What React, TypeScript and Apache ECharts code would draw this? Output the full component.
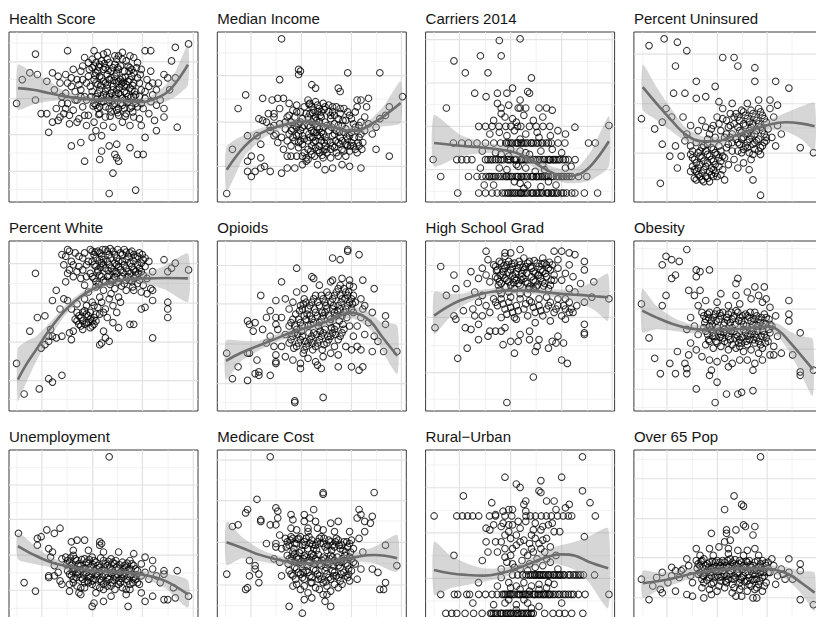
import { useEffect, useRef } from 'react';
import * as echarts from 'echarts';

// ---- panel titles ----
const TITLES = [
  'Health Score', 'Median Income', 'Carriers 2014', 'Percent Uninsured',
  'Percent White', 'Opioids', 'High School Grad', 'Obesity',
  'Unemployment', 'Medicare Cost', 'Rural\u2212Urban', 'Over 65 Pop',
];

// ---- grid break positions (shared per column for x, per panel for y) ----
const col1GridX = [4.2, 17.4, 30.8, 44.3, 57.5, 70.6, 84.2, 97.5];
const col2GridX = [4.4, 17.8, 31, 44.5, 57.7, 71, 84.2, 97.4];
const col3GridX = [4.5, 17.9, 31.7, 45, 58.5, 72, 85.7, 98.7];
const col4GridX = [4.7, 17.5, 31, 44.2, 57.4, 70.5, 83.7, 96.8];

const healthScoreGridY = [7.3, 18, 28.8, 39.6, 50, 60.8, 72, 82.4, 93.5];
const medianIncomeGridY = [7.6, 21, 33.7, 47, 60.6, 74.3, 87.6];
const carriersGridY = [6.3, 19, 31.8, 44.5, 57.3, 70, 82.7, 95.5];
const uninsuredGridY = [14.1, 28.8, 43.5, 57.8, 72, 87];
const whiteGridY = [6.8, 17.9, 29.2, 40.5, 51.7, 63.4, 75, 86.7];
const opioidsGridY = [4.9, 16.1, 27.6, 39.4, 51.6, 63, 74.2, 85.6];
const hsGradGridY = [6.9, 22.6, 38.4, 55.1, 70.3, 85.6];
const obesityGridY = [2, 12.8, 24.6, 36.4, 48.2, 60, 71.9, 83.7, 95.5];
const unemploymentGridY = [6.9, 17.5, 27.8, 38.2, 48.4, 59.2, 69, 79.4, 89.6];
const medicareGridY = [8.4, 20.6, 33.3, 45.7, 58.2, 70.2, 82.4, 94.1];
const ruralGridY = [11.2, 24.5, 37.8, 51.2, 64.5, 77.8, 91.2];
const over65GridY = [1.4, 13.1, 24.9, 36.7, 48.4, 59.6, 71.4, 83.1, 94.5];

// ---- scatter points (flat x,y pairs, panel units 0..100) ----
const healthScorePts = [
  95,93, 88,91, 75,89, 72,89, 66,85, 86,83, 31,89, 45,89, 14,87, 11,76, 7,72, 4,58, 14,60, 17,52, 20,52, 23,47, 21,41, 33,33, 38,35, 40,24,
  53,5, 67,7, 55,17, 89,44, 82,50, 78,42, 72,38, 68,28, 71,28, 64,32, 58,24, 57,26, 48,25, 49,30, 53,33, 57,34, 56,28, 44,38, 49,39, 46,42,
  41,45, 36,47, 32,46, 27,50, 30,55, 25,55, 28,58, 35,60, 15,75, 20,71, 23,76, 26,74, 82,75, 85,66, 88,73, 84,73,
  44,79, 46,76, 48,81, 50,78, 52,75, 53,82, 55,79, 57,76, 59,80, 61,77, 62,83, 64,79, 66,76,
  45,72, 47,69, 49,73, 51,70, 53,72, 55,68, 56,74, 58,71, 60,73, 62,69, 64,72, 66,70, 68,73,
  44,65, 46,62, 48,66, 50,63, 52,67, 54,64, 56,61, 57,66, 59,63, 61,65, 63,62, 65,66, 67,63,
  45,58, 47,55, 49,59, 51,56, 53,60, 55,57, 57,54, 59,58, 61,55, 63,59, 65,56, 67,58,
  48,52, 51,50, 54,53, 58,51, 62,52, 66,50,
  24,66, 27,70, 30,64, 33,68, 36,72, 38,66, 41,70, 40,62, 36,60, 31,58, 28,62, 34,54, 39,56, 42,51, 37,49,
  70,66, 72,61, 74,68, 76,63, 78,57, 71,55, 74,52, 77,48, 69,49, 73,72, 70,78, 75,77, 68,82, 42,82, 38,77, 34,78, 30,75, 40,85, 47,86, 56,86,
  60,88, 64,86, 52,88, 26,48, 45,47, 50,45, 60,47, 64,45, 70,45, 55,44, 80,60, 79,70, 82,55,
  45,80, 47,77, 49,83, 51,79, 54,77, 56,81, 58,78, 60,84, 63,80, 65,78, 46,70, 48,74, 50,71, 52,69, 54,73, 57,70, 59,72, 61,68, 63,71, 65,74,
  47,64, 49,61, 51,65, 53,62, 55,66, 58,64, 60,61, 62,64, 64,67, 66,62, 46,57, 48,56, 50,59, 53,55, 56,58, 58,55, 60,57, 62,60, 64,55, 43,68,
  42,74, 41,60, 69,70, 69,62, 68,56, 52,84, 57,84, 46,82, 39,72, 38,62,
  45.5,74.5, 47.5,79.5, 50.5,81.5, 52.5,77.5, 55.5,71.5, 57.5,79, 59.5,69.5, 61.5,73.5, 63.5,77, 65.5,68.5, 46.5,60.5, 48.5,68.5, 51.5,62.5,
  54.5,59.5, 56.5,63.5, 58.5,67.5, 60.5,70.5, 62.5,58.5, 64.5,61.5, 66.5,65, 44.5,56.5, 47.5,51.5, 53.5,50.5, 57.5,52.5, 61.5,50.5, 65.5,53,
  43.5,62, 42.5,78, 67.5,79, 69.5,75, 35,65, 33,73, 37,69, 31,70, 39,80, 72,65, 75,59, 70,58, 76,70, 78,66, 29,52, 32,51, 40,51, 44,84,
  50,87, 58,86,
];
const medianIncomePts = [
  34,96, 43,78, 44,77, 43,75, 33,72, 69,76, 86,76, 15,63, 11,55, 8,31, 5,5, 16,24, 18,27, 16,18, 18,15, 20,18, 23,20, 25,21, 28,18, 34,17,
  23,26, 16,39, 21,39, 23,34, 24,61, 29,60, 32,61, 35,61, 50,69, 52,67, 64,67, 65,65, 98,62, 91,56, 89,51, 86,49, 84,31, 91,27, 76,20, 70,21,
  66,22, 61,20, 57,19, 37,20, 41,20, 45,22, 48,25, 37,27, 39,27, 42,27, 45,27, 47,26, 22,49, 24,48, 27,52, 30,52, 28,42, 30,39, 74,60, 76,60,
  80,61, 78,50, 79,56,
  48,60, 50,56, 52,59, 54,55, 56,58, 49,52, 51,49, 53,53, 55,50, 57,47, 48,45, 50,42, 52,46, 54,43, 56,40, 49,38, 51,35, 53,39, 55,36, 57,33,
  48,31, 50,28, 52,32, 54,29, 56,26,
  59,57, 61,53, 63,56, 65,52, 67,55, 60,49, 62,46, 64,49, 66,45, 68,48, 59,42, 61,39, 63,42, 65,38, 67,41, 69,37, 60,35, 62,32, 64,35, 66,31,
  68,34, 70,30, 72,33, 74,29, 71,41, 73,44, 75,38, 77,35, 70,51, 73,53, 76,47, 78,42, 74,56,
  38,58, 40,54, 42,57, 44,53, 46,56, 37,50, 39,47, 41,50, 43,46, 45,49, 36,43, 38,40, 40,43, 42,39, 44,42, 46,37, 37,36, 39,33, 41,36, 43,32,
  45,34, 46,29, 35,31, 33,46, 31,40, 30,50, 28,44, 26,47, 33,55,
  58,29, 60,26, 64,27, 68,27, 47,24, 53,22, 80,46, 82,40, 84,44,
  49,58, 51,54, 53,57, 55,53, 57,56, 48,50, 50,47, 52,50, 54,47, 56,44, 49,44, 51,41, 53,44, 55,41, 57,38, 48,36, 50,33, 52,36, 54,33, 56,30,
  58,45, 60,51, 62,40, 64,45, 66,36, 68,43, 70,39, 72,46, 74,42, 61,33, 63,29, 65,34, 67,30, 69,33, 71,35, 73,31, 75,33, 76,40, 59,53, 62,51,
  46,45, 44,47, 42,44, 47,52, 45,39, 43,35, 58,36, 60,31,
  48.5,57.5, 50.5,52.5, 52.5,48, 54.5,51, 56.5,54.5, 48.5,40, 50.5,38, 52.5,41, 54.5,38.5, 56.5,35, 49.5,30, 51.5,27, 53.5,30.5, 55.5,27.5,
  57.5,31, 60.5,44, 62.5,36, 64.5,41, 66.5,48, 68.5,38.5, 70.5,33, 72.5,38, 74.5,35, 76.5,31, 61,56, 65,55, 69,53, 71,49, 75,45, 41,45, 39,42,
  43,40, 45,44, 44,36, 40,38, 38,51, 42,53, 36,47, 34,38, 32,35, 30,45,
];
const carriersPts = [
  50,96, 39,95, 29,86, 40,86, 15,83, 21,76, 33,76, 56,73, 26,64, 32,62, 38,64, 43,64, 46,67, 50,60, 54,65, 55,64, 11,55.3, 40,55.3, 40,52,
  49,55.3, 50,55.3, 53,55.3, 60,55.3, 64,55.3, 67,54, 46,49, 97,45, 79,44, 4,25, 8,15, 17,5.3, 91,5.3, 84,5.3, 79,5.3,
  14.7,34.7, 19.1,34.7, 22.7,34.7, 27.2,34.7, 31.7,34.7, 36.1,34.7, 39.7,34.7, 42.4,34.7, 45.1,34.7, 47.8,34.7, 50.4,34.7, 53.1,34.7,
  55.8,34.7, 58.5,34.7, 61.2,34.7, 63.9,34.7, 66.5,34.7, 70.1,34.7, 73.7,34.7, 86.2,34.7, 89.8,34.7, 44,34.7, 49,34.7, 52,34.7, 57,34.7,
  43,34.7, 46,34.7, 48.5,34.7, 51,34.7, 54,34.7, 56,34.7, 59.5,34.7, 62,34.7, 65,34.7,
  16.5,24.9, 19.1,24.9, 21.8,24.9, 24.5,24.9, 31.7,24.9, 34.3,24.9, 37,24.9, 39.7,24.9, 43.3,24.9, 46.9,24.9, 50.4,24.9, 54,24.9,
  59.4,24.9, 62.1,24.9, 64.8,24.9, 67.4,24.9, 70.1,24.9, 72.8,24.9, 75.5,24.9, 79.1,24.9, 41,24.9, 45,24.9, 48,24.9, 52,24.9, 57,24.9,
  66,24.9, 69,24.9, 74,24.9, 33,24.9, 35.5,24.9, 38.5,24.9, 44,24.9, 47.5,24.9, 51,24.9, 53,24.9, 55.5,24.9, 58,24.9, 60.5,24.9, 63,24.9,
  65.5,24.9, 68,24.9, 71,24.9,
  22.7,15, 27.2,15, 29.9,15, 33.5,15, 37,15, 39.7,15, 42.4,15, 45.1,15, 47.8,15, 50.4,15, 53.1,15, 55.8,15, 58.5,15, 61.2,15, 63.9,15,
  66.5,15, 69.2,15, 71.9,15, 74.6,15, 77.3,15, 80.9,15, 85.3,15, 35,15, 41,15, 44,15, 49,15, 52,15, 57,15, 60,15, 62,15,
  32,15, 34,15, 36,15, 38.5,15, 43,15, 46,15, 48.5,15, 51,15, 54,15, 56.5,15, 59,15, 63,15, 65,15, 67.5,15, 70.5,15, 73,15, 76,15,
  28.1,5.3, 31.7,5.3, 35.2,5.3, 37.9,5.3, 40.6,5.3, 43.3,5.3, 45.1,5.3, 47.8,5.3, 50.4,5.3, 53.1,5.3, 55.8,5.3, 58.5,5.3, 61.2,5.3,
  63.9,5.3, 66.5,5.3, 69.2,5.3, 71.9,5.3, 74.6,5.3, 77.3,5.3, 42,5.3, 46,5.3, 49,5.3, 52,5.3, 57,5.3, 60,5.3, 65,5.3, 68,5.3,
  44,5.3, 47,5.3, 50,5.3, 51,5.3, 54,5.3, 56.5,5.3, 59,5.3, 62,5.3, 64.5,5.3, 67,5.3, 70,5.3, 73,5.3,
  28.1,44.5, 31.7,44.5, 35.2,44.5, 38.8,44.5, 42.4,44.5, 45.1,44.5, 48.7,44.5, 50.4,44.5, 54.9,44.5, 58.5,44.5, 62.1,44.5, 65.7,44.5,
  34,40, 39,41, 43,39, 47,42, 53,40, 59,41, 66,39, 70,42, 74,40,
  30,30, 37,29, 45,31, 50,30, 53,29, 61,30, 67,31, 72,29,
  29,20, 39,20, 49,21, 53,20, 63,19, 74,20, 77,21,
  31,10, 36,10, 50,11, 54,10, 61,9, 69,10,
  44,27, 48,22, 55,28, 58,18, 62,22, 65,12, 47,12, 52,8, 40,28, 43,19, 60,38, 50,37,
  36,48, 42,50, 48,47, 52,51, 57,48, 44,57, 38,58, 62,50,
];
const uninsuredPts = [
  8,92, 16,96, 23,94, 28,89, 22,80, 47,85, 53,85, 55,80, 64,79, 33,71, 43,68, 64,71, 75,71, 82,67, 21,64, 27,64, 33,61, 38,62, 4,49, 11,43,
  15,34, 19,27, 14,11, 23,20, 25,27, 22,33, 67,4, 63,13, 88,32, 95,29, 17,55, 20,50, 15,47,
  30,28, 32,25, 34,29, 36,26, 38,30, 40,27, 42,24, 44,28, 31,21, 33,18, 35,22, 37,19, 39,23, 41,20, 43,17, 45,21, 32,14, 34,16, 36,13, 38,15,
  40,12, 42,15, 30,33, 33,35, 36,32, 39,34, 42,31, 45,33, 47,27, 47,19, 48,13,
  54,52, 56,48, 58,53, 60,49, 62,54, 64,50, 66,55, 68,51, 70,47, 55,44, 57,41, 59,45, 61,42, 63,46, 65,42, 67,44, 69,40, 71,43, 54,37, 56,34,
  58,38, 60,35, 62,39, 64,35, 66,37, 68,33, 70,36, 55,30, 58,31, 61,29, 64,31, 67,28,
  46,42, 48,38, 50,44, 52,40, 49,48, 51,52, 47,55, 44,50, 42,45, 40,40, 38,44, 36,48, 34,42, 50,34, 52,30, 48,26, 50,22, 53,25, 55,20, 58,23,
  61,19, 62,25, 72,55, 74,50, 76,45, 73,38, 75,33, 78,40, 72,60, 76,57, 66,60, 60,58, 52,58, 45,59, 28,40, 30,45, 27,36, 26,50,
  31,26, 33,23, 35,27, 37,24, 39,28, 41,25, 43,22, 45,26, 30,18, 32,19, 34,20, 36,17, 38,21, 40,18, 42,19, 44,15, 33,13, 35,15, 37,12, 39,14,
  41,16, 31,30, 35,30, 37,33, 41,32, 43,29, 46,24, 46,16,
  55,50, 57,54, 59,51, 61,47, 63,52, 65,48, 67,53, 69,49, 56,42, 58,46, 60,40, 62,44, 64,40, 66,46, 68,42, 70,38, 55,35, 57,37, 59,33, 61,37,
  63,34, 65,36, 67,32, 69,35, 57,29, 60,32, 63,28, 66,30, 53,46, 52,35,
  49,40, 51,45, 47,49, 53,50, 45,46, 43,38, 41,43, 39,37, 51,38, 49,32, 46,30,
];
const whitePts = [
  4,28, 8,10, 16,13, 21,19, 23,17, 28,21, 14,81, 15,55, 19,56, 11,47, 17,37, 19,39, 21,41, 21,44, 23,44, 25,43, 28,44, 22,48, 25,71, 23,65,
  29,66, 31,65, 27,60, 33,42, 32,46, 48,39, 49,40, 51,43, 53,41, 64,51, 66,51, 76,43, 84,55, 84,64, 84,60, 82,89, 88,87, 86,84, 84,82, 95,83,
  76,71, 76,65, 72,61, 70,60, 28,92, 31,95, 32,94,
  43,95, 45,92, 47,94, 49,91, 51,95, 53,92, 55,94, 57,90, 59,93, 61,95, 63,91, 65,94, 67,90, 69,93, 71,89,
  44,88, 46,85, 48,89, 50,86, 52,88, 54,84, 56,87, 58,85, 60,88, 62,84, 64,87, 66,83, 68,86, 70,82, 72,85,
  43,81, 45,78, 47,82, 49,79, 51,76, 53,80, 55,77, 57,81, 59,78, 61,75, 63,79, 65,76, 67,80, 69,77, 71,74, 73,78,
  30,91, 33,88, 35,93, 37,85, 39,90, 41,86, 32,83, 34,79, 36,82, 38,78, 40,74, 30,76, 29,86, 74,88, 76,82, 75,72, 73,69, 70,70, 66,71, 62,71,
  56,72, 50,71, 46,73, 42,70,
  36,58, 38,55, 40,59, 42,56, 44,53, 46,57, 37,51, 39,48, 41,52, 43,49, 45,51, 35,54, 47,61, 49,64, 51,60, 53,66, 55,62, 57,58, 59,64, 48,67,
  44,64, 40,66, 36,63, 33,60, 52,55, 55,52, 58,49, 50,47, 54,69, 58,67, 34,47,
  44,94, 46,90, 48,93, 50,89, 52,94, 54,90, 56,92, 58,88, 60,92, 62,89, 64,93, 66,88, 68,91, 70,87, 45,86, 47,83, 49,87, 51,84, 53,86, 55,82,
  57,86, 59,83, 61,86, 63,82, 65,85, 67,82, 69,84, 71,80, 44,79, 46,76, 48,80, 50,77, 52,79, 54,76, 56,79, 58,76, 60,79, 62,77, 64,77, 66,78,
  68,75, 42,88, 40,93, 72,90,
  37,56, 39,53, 41,57, 43,54, 45,55, 38,50, 40,51, 42,52, 44,50, 36,53, 39,58, 43,58, 46,53, 48,57, 50,58, 41,62, 45,62,
  45.5,93.5, 49.5,95, 53.5,95.5, 57.5,95, 62,93.5, 66,92, 70.5,92, 48.5,84.5, 52.5,82.5, 56.5,82, 60.5,81.5, 64.5,81, 68.5,81, 47.5,74.5,
  53.5,74.5, 59.5,73.5, 65.5,73, 41,79, 39,83, 37,91, 34,86, 31,81,
];
const opioidsPts = [
  69,95, 69,94, 75,92, 61,90, 65,89, 42,84, 50,79, 51,78, 34,76, 23,68, 31,65, 36,66, 61,77, 65,74, 70,77, 77,77, 83,72, 16,53, 17,51, 20,52,
  19,47, 26,55, 28,59, 31,55, 31,51, 5,34, 11,26, 8,19, 16,18, 20,22, 22,23, 22,21, 28,21, 16,34, 17,34, 21,30, 31,29, 31,28, 31,33, 41,5,
  41,6, 56,8, 44,25, 53,27, 55,25, 64,26, 71,26, 75,24, 77,26, 89,56, 89,51, 83,44, 85,41, 82,35, 88,35, 95,35, 77,60, 82,58, 71,36, 76,36,
  38,40, 40,44, 42,38, 44,42, 46,36, 48,40, 50,44, 52,38, 54,42, 56,46, 58,40, 60,44, 62,48, 64,42, 66,46,
  38,50, 40,54, 42,48, 44,52, 46,56, 48,50, 50,54, 52,58, 54,52, 56,56, 58,60, 60,54, 62,58, 64,62, 66,56, 68,60, 70,64, 72,58,
  44,62, 46,66, 48,60, 50,64, 52,68, 54,62, 56,66, 58,70, 60,64, 62,68, 64,72, 66,66, 68,70, 70,74, 72,68,
  36,45, 34,38, 36,32, 40,30, 44,28, 48,31, 52,29, 56,32, 60,34, 64,33, 68,38, 72,44, 74,50, 76,55, 70,50,
  28,44, 30,38, 32,48, 34,55, 38,60, 40,64, 42,70, 46,72, 54,74, 60,76, 66,78, 72,73, 76,66, 78,62, 80,52, 74,38, 78,45, 26,40, 24,48,
  39,42, 41,46, 43,40, 45,44, 47,38, 49,42, 51,46, 53,40, 55,44, 57,48, 59,42, 61,46, 63,50, 65,44, 67,48, 39,52, 41,50, 43,54, 45,50, 47,54,
  49,56, 51,52, 53,56, 55,54, 57,58, 59,56, 61,60, 63,56, 65,60, 67,58, 69,62, 71,60, 45,60, 47,64, 49,62, 51,66, 53,64, 55,68, 57,64, 59,68,
  61,66, 63,70, 65,68, 67,72, 69,68, 71,66, 73,64,
  41.5,57, 43.5,59, 45.5,63, 47.5,57, 49.5,51, 51.5,60, 53.5,50, 55.5,58, 57.5,62, 59.5,52, 61.5,62, 63.5,59, 65.5,64, 67.5,66, 69.5,70,
  71.5,63, 42.5,45, 44.5,47, 46.5,41, 48.5,46, 50.5,40, 52.5,45, 54.5,47, 56.5,39, 58.5,44, 60.5,49, 62.5,45, 64.5,53, 66.5,51, 68.5,55,
  40.5,37, 45.5,34, 50.5,36, 55.5,36, 62,38,
];
const hsGradPts = [
  50,95, 32,94, 42,93, 45,93, 68,94, 72,94, 76,93, 79,92, 84,88, 84,83, 89,76, 8,85, 15,80, 24,82, 16,72, 22,75, 11,68, 5,49, 15,56, 16,54,
  20,59, 21,49, 24,48, 28,51, 25,60, 26,56, 22,37, 17,31, 28,42, 33,44, 34,47, 37,47, 40,47, 42,49, 41,39, 45,41, 47,34, 49,41, 50,45, 55,47,
  55,42, 58,35, 59,38, 60,42, 65,37, 67,41, 69,40, 73,40, 70,44, 57,20, 43,5, 72,30, 75,28, 84,46, 84,45, 84,51, 84,64, 88,67, 97,66,
  36,86, 38,83, 40,87, 42,84, 44,88, 46,85, 48,82, 50,86, 52,83, 54,87, 56,84, 58,81, 60,85, 62,82, 64,86, 66,83,
  37,79, 39,76, 41,80, 43,77, 45,74, 47,78, 49,75, 51,79, 53,76, 55,73, 57,77, 59,74, 61,78, 63,75, 65,72,
  30,84, 32,80, 34,76, 28,78, 68,80, 70,84, 72,77, 74,81, 76,86, 78,79, 70,89, 62,90, 52,90, 42,91, 33,89,
  36,66, 38,62, 40,66, 42,60, 44,64, 46,58, 48,62, 50,66, 52,60, 54,56, 56,64, 58,58, 60,62, 62,56, 64,60, 66,64, 68,58, 70,62, 72,56, 74,60,
  76,64, 78,58, 80,62, 30,68, 32,62, 34,58, 30,56, 40,55, 48,54, 58,52, 66,53, 74,54, 79,70, 82,75, 76,72, 44,70, 54,69, 26,70, 28,64,
  37,85, 39,88, 41,82, 43,86, 45,83, 47,87, 49,84, 51,81, 53,85, 55,88, 57,82, 59,87, 61,83, 63,87, 65,84, 67,86, 38,78, 40,75, 42,78, 44,76,
  46,80, 48,77, 50,74, 52,78, 54,75, 56,79, 58,76, 60,80, 62,76, 64,79, 66,74, 68,77, 39,71, 47,72, 57,72, 37,64, 41,63, 45,61, 49,59, 53,63,
  57,61, 61,59, 65,62, 69,60, 73,62, 77,60,
  37.5,82.5, 39.5,80, 41.5,85.5, 43.5,81.5, 45.5,86.5, 47.5,80.5, 49.5,88, 51.5,84.5, 53.5,81, 55.5,85, 57.5,88.5, 59.5,80, 61.5,86.5,
  63.5,81, 65.5,87.5, 38.5,74, 42.5,73, 46.5,75.5, 50.5,77, 54.5,72, 58.5,73, 62.5,73.5, 66.5,77, 40,69, 45,67, 50,69, 55,65, 60,66, 64,67,
  70,66, 74,66, 76,58, 43,57, 47,55,
];
const obesityPts = [
  28,95, 17,91, 20,89, 24,88, 15,86, 22,80, 20,78, 33,83, 35,82, 40,83, 33,79, 4,63, 15,62, 17,68, 29,71, 35,71, 55,78, 54,75, 64,73, 69,73,
  82,65, 82,57, 82,53, 88,46, 8,43, 11,31, 14,22, 22,22, 19,28, 23,35, 28,22, 28,25, 33,13, 44,17, 49,10, 43,5, 55,10, 57,11, 63,12, 41,24,
  40,21, 50,26, 63,24, 88,23, 88,21, 95,24, 84,33, 78,34, 74,33,
  36,58, 38,54, 40,58, 42,55, 44,59, 46,56, 48,52, 50,57, 52,54, 54,59, 56,55, 58,51, 60,56, 62,53, 64,58, 66,54, 68,50, 70,55,
  37,49, 39,45, 41,48, 43,44, 45,47, 47,43, 49,46, 51,42, 53,47, 55,44, 57,40, 59,46, 61,42, 63,47, 65,43, 67,39, 69,45, 71,41,
  38,39, 42,37, 46,38, 50,36, 54,37, 58,35, 62,36, 66,34,
  30,55, 32,50, 34,45, 28,48, 30,40, 33,36, 36,32, 40,30, 44,29, 48,31, 52,28, 56,30, 60,30, 64,28, 68,30, 72,33, 74,38, 76,44, 73,50, 75,56,
  72,61, 68,64, 62,66, 56,63, 50,62, 44,64, 38,65, 34,62, 32,68, 46,69, 54,68, 60,70, 66,68, 70,66, 29,33, 27,28,
  37,56, 39,57, 41,53, 43,57, 45,54, 47,58, 49,55, 51,52, 53,56, 55,58, 57,53, 59,57, 61,55, 63,51, 65,56, 67,52, 69,57, 38,47, 40,50, 42,46,
  44,49, 46,45, 48,48, 50,44, 52,49, 54,45, 56,42, 58,48, 60,44, 62,49, 64,45, 66,41, 68,47, 70,43, 40,41, 44,40, 48,41, 52,39, 56,38, 60,39,
  64,40, 68,37, 72,46, 72,51,
  37.5,52, 39.5,55, 41.5,50.5, 43.5,53, 45.5,57.5, 47.5,50.5, 49.5,53.5, 51.5,58, 53.5,51, 55.5,53, 57.5,56, 59.5,50, 61.5,58, 63.5,54,
  65.5,50, 67.5,55, 69.5,51, 71.5,54, 39.5,42, 41.5,44, 43.5,41, 45.5,43.5, 47.5,46, 49.5,40, 51.5,47, 53.5,43, 55.5,40, 57.5,43.5, 59.5,41,
  61.5,45, 63.5,42, 65.5,47, 67.5,44, 69.5,40, 71.5,48,
];
const unemploymentPts = [
  53,96, 5,51, 8,22, 14,17, 15,48, 17,49, 20,53, 24,51, 27,54, 21,42, 23,40, 15,44, 33,46, 36,47, 40,47, 48,46, 49,45, 48,44, 89,29, 82,29,
  82,27, 95,14, 88,13, 87,19, 72,11, 76,14, 82,12, 84,12, 44,8, 45,10, 50,11, 63,8, 21,25, 21,26, 28,21, 32,17, 37,16,
  30,37, 32,34, 34,38, 36,35, 38,32, 40,36, 42,33, 44,37, 46,34, 48,31, 50,35, 52,32, 54,36, 56,33, 58,30, 60,34, 62,31, 64,35, 66,32, 68,29,
  31,29, 33,26, 35,30, 37,27, 39,24, 41,28, 43,25, 45,29, 47,26, 49,23, 51,27, 53,24, 55,28, 57,25, 59,22, 61,26, 63,23, 65,27, 67,24, 69,21,
  32,21, 36,20, 40,19, 44,21, 48,19, 52,20, 56,18, 60,19, 64,18,
  22,37, 24,32, 26,28, 24,26, 27,23, 28,36, 70,33, 72,28, 74,24, 76,30, 78,26, 80,22, 72,37, 76,35, 66,39, 58,40, 50,40, 42,41, 34,41, 46,16,
  54,14, 62,15, 70,16, 38,15,
  31,35, 33,32, 35,36, 37,33, 39,30, 41,34, 43,31, 45,35, 47,32, 49,29, 51,33, 53,30, 55,34, 57,31, 59,28, 61,32, 63,29, 65,33, 67,30, 32,27,
  34,24, 36,28, 38,25, 40,22, 42,26, 44,23, 46,27, 48,24, 50,21, 52,25, 54,22, 56,26, 58,23, 60,27, 62,24, 64,21, 66,25, 68,22, 70,26, 34,22,
  38,19, 42,22, 46,20, 50,18, 54,20, 58,21, 62,18,
  30.5,32.5, 32.5,36.5, 34.5,30.5, 36.5,32, 38.5,35.5, 40.5,30.5, 42.5,35.5, 44.5,32.5, 46.5,30, 48.5,36.5, 50.5,30.5, 52.5,34.5, 54.5,29.5,
  56.5,35, 58.5,32.5, 60.5,29.5, 62.5,33.5, 64.5,30, 33.5,28.5, 35.5,25, 37.5,29.5, 39.5,26.5, 41.5,23, 43.5,27.5, 45.5,24, 47.5,28.5,
  49.5,25.5, 51.5,22.5, 53.5,27.5, 55.5,23.5, 57.5,27, 59.5,24.5, 61.5,28, 63.5,25.5, 65.5,22, 67.5,26.5,
];
const medicarePts = [
  28,96, 56,75, 56,74, 83,75, 21,71, 16,65, 15,63, 8,55, 11,56, 23,59, 23,58, 28,56, 31,56, 31,66, 32,64, 32,60, 39,62, 40,59, 39,54, 46,62,
  46,58, 49,60, 48,54, 51,65, 52,58, 53,54, 60,57, 64,58, 75,65, 76,62, 74,60, 78,58, 82,61, 81,57, 5,27, 17,35, 17,26, 20,32, 20,30, 22,22,
  22,27, 15,18, 16,19, 26,45, 31,45, 31,43, 30,36, 89,44, 82,30, 85,28, 89,22, 86,18, 88,18, 95,32, 45,4, 38,8, 57,11, 60,8, 58,15,
  36,48, 38,44, 40,48, 42,45, 44,49, 46,46, 48,42, 50,47, 52,44, 54,48, 56,45, 58,41, 60,46, 62,43, 64,47, 66,44, 68,40, 70,45, 72,42,
  37,38, 39,35, 41,39, 43,36, 45,33, 47,37, 49,34, 51,38, 53,35, 55,32, 57,36, 59,33, 61,37, 63,34, 65,31, 67,35, 69,32, 71,36, 73,33,
  38,29, 40,26, 42,30, 44,27, 46,24, 48,28, 50,25, 52,29, 54,26, 56,22, 58,27, 60,24, 62,28, 64,25, 66,21, 68,26, 70,23,
  40,20, 44,18, 48,16, 52,19, 56,15, 60,17, 64,19, 50,13, 46,12,
  33,50, 34,42, 33,34, 34,26, 75,48, 77,40, 76,30, 74,24, 78,52, 70,52, 62,52, 56,53, 48,52, 42,53,
  37,46, 39,49, 41,45, 43,48, 45,44, 47,48, 49,45, 51,42, 53,46, 55,49, 57,43, 59,47, 61,44, 63,48, 65,42, 67,46, 69,43, 71,47, 38,36, 40,40,
  42,37, 44,34, 46,38, 48,35, 50,39, 52,36, 54,33, 56,37, 58,34, 60,38, 62,35, 64,32, 66,36, 68,33, 70,37, 72,34, 39,27, 41,31, 43,28, 45,25,
  47,29, 49,26, 51,30, 53,27, 55,24, 57,29, 59,25, 61,29, 63,26, 65,23, 67,28, 69,25, 71,29, 42,21, 46,20, 50,22, 54,18, 58,20, 62,21,
  36.5,43, 38.5,47, 40.5,42, 42.5,47.5, 44.5,41, 46.5,44, 48.5,49, 50.5,44.5, 52.5,41, 54.5,45, 56.5,48, 58.5,44, 60.5,41, 62.5,46, 64.5,44,
  66.5,41, 68.5,46, 70.5,40, 37.5,33, 39.5,37.5, 41.5,34, 43.5,39.5, 45.5,36, 47.5,32, 49.5,37, 51.5,33, 53.5,38.5, 55.5,35, 57.5,31,
  59.5,36, 61.5,32, 63.5,37, 65.5,34, 67.5,38, 69.5,30, 41.5,24, 45.5,28, 49.5,22, 53.5,24, 57.5,22.5, 61.5,26, 65.5,27, 69.5,27,
];
const ruralUrbanPts = [
  83,96, 42,84, 72,84, 48,80, 50,78, 61,82, 60,76, 61,75, 83,76, 20,73, 35,69, 53,70, 52,68, 64,70, 68,70, 76,68, 87,69, 44,65, 46,65, 41,64,
  37,62, 53,64, 69,65, 74,66, 15,38, 32,46,
  4.5,61.2, 16.5,61.2, 19.5,61.2, 22.2,61.2, 24.9,61.2, 28.1,61.2, 33.8,61.2, 37,61.2, 42,61.2, 45.6,61.2, 53.1,61.2, 55.5,61.2, 58.1,61.2,
  61.2,61.2, 63.9,61.2, 66.5,61.2, 69.8,61.2, 72.8,61.2, 75.5,61.2, 77.3,61.2, 89.8,61.2,
  46,26.5, 48.7,26.5, 51.3,26.5, 53.1,26.5, 55.5,26.5, 57.6,26.5, 60.3,26.5, 62.1,26.5, 64.8,26.5, 67.4,26.5, 70.1,26.5, 72.8,26.5,
  75.5,26.5, 78.2,26.5, 80.9,26.5, 83.5,26.5, 89.4,26.5, 54.5,26.5, 56.5,26.5, 59,26.5, 61,26.5, 63.5,26.5, 66,26.5, 69,26.5, 71.5,26.5,
  58,26.5, 60,26.5, 62.5,26.5, 65,26.5, 68,26.5, 70.8,26.5, 73.5,26.5, 76.5,26.5, 79.5,26.5, 82,26.5,
  8,15.1, 15.2,15.1, 17,15.1, 21.8,15.1, 23.3,15.1, 28.1,15.1, 31.7,15.1, 35.2,15.1, 37.9,15.1, 40.6,15.1, 43.3,15.1, 46,15.1, 48.7,15.1,
  51.3,15.1, 54,15.1, 56.7,15.1, 59.4,15.1, 62.1,15.1, 64.8,15.1, 67.4,15.1, 70.1,15.1, 72.8,15.1, 75.5,15.1, 78.2,15.1, 80.9,15.1,
  84.4,15.1, 97,15.1, 44.5,15.1, 47,15.1, 50,15.1, 52.5,15.1, 55,15.1, 58,15.1, 61,15.1, 63.5,15.1, 66,15.1,
  41.5,15.1, 42.3,15.1, 45,15.1, 49.5,15.1, 53,15.1, 57.5,15.1, 60,15.1, 62.7,15.1, 65.5,15.1, 68.5,15.1, 71,15.1, 74,15.1, 77,15.1,
  10.7,3.9, 13.8,3.9, 16.5,3.9, 20.9,3.9, 25.4,3.9, 29.9,3.9, 34.3,3.9, 37,3.9, 39.7,3.9, 42.4,3.9, 45.1,3.9, 47.8,3.9, 50.4,3.9, 53.1,3.9,
  55.8,3.9, 63,3.9, 67.4,3.9, 70.7,3.9, 73.7,3.9, 77.3,3.9, 83.2,3.9, 41,3.9, 44,3.9, 46.5,3.9, 49,3.9, 52,3.9, 54.5,3.9, 57,3.9,
  38,3.9, 40,3.9, 43,3.9, 45,3.9, 48.5,3.9, 51,3.9, 53.7,3.9, 56,3.9, 35,3.9, 36,3.9,
  32,54, 34,53, 36,56, 40,55, 42,50, 37,46, 40,46, 46,56, 50,54, 56,50, 61,53, 67,57, 68,52, 65,56, 71,52, 84,49, 38,40, 42,42, 45,38, 48,44,
  52,40, 56,42, 60,45, 63,40, 66,43, 69,38, 43,34, 47,31, 51,35, 55,33, 59,36, 62,32, 66,34, 70,30, 40,30, 44,22, 48,20, 52,22, 56,20, 60,21,
  64,19, 68,21, 38,20, 36,9, 42,10, 48,9, 54,10, 60,8, 72,10, 33,40, 30,35, 28,22, 25,10, 62,47, 58,57, 53,58, 45,48, 41,57,
  44,52, 48,50, 52,47, 55,45, 58,48, 46,42, 50,46, 54,38, 57,40, 61,42, 64,48, 62,55, 57,53, 49,58, 44,56, 42,37, 46,33, 50,30, 54,29, 58,31,
  64,36, 40,25, 45,19, 50,18, 55,17, 60,18, 65,22, 48,6, 56,7, 44,12, 52,12,
];
const over65Pts = [
  67,96, 53,73, 48,65, 57,68, 58,67, 58,56, 59,55, 64,55, 63,50, 41,51, 49,53, 49,51, 54,53, 48,46, 51,47, 33,42, 40,42, 45,43, 50,42, 55,41,
  60,41, 64,42, 4,24, 8,12, 14,18, 15,28, 20,31, 22,29, 25,29, 82,36, 88,33, 88,29, 88,12, 95,9, 84,24, 82,28, 79,27, 37,13, 41,15, 54,14,
  57,14, 63,13, 65,13, 15,16, 22,17, 28,15, 31,14,
  33,35, 35,32, 37,36, 39,33, 41,30, 43,34, 45,31, 47,35, 49,32, 51,36, 53,33, 55,30, 57,34, 59,31, 61,35, 63,32, 65,29, 67,33, 69,30, 71,34,
  34,27, 36,24, 38,28, 40,25, 42,22, 44,26, 46,23, 48,27, 50,24, 52,21, 54,25, 56,22, 58,26, 60,23, 62,20, 64,24, 66,21, 68,25, 70,22,
  36,19, 40,18, 44,17, 48,19, 52,16, 56,18, 60,17, 64,18, 68,17,
  29,32, 30,26, 31,22, 28,36, 26,30, 24,25, 72,28, 74,32, 76,26, 73,36, 75,21, 66,38, 58,38, 50,39, 42,38, 35,38, 20,26, 18,22, 12,25, 10,20,
  78,30, 80,24,
  34,33, 36,35, 38,32, 40,34, 42,31, 44,35, 46,32, 48,34, 50,31, 52,34, 54,32, 56,35, 58,32, 60,34, 62,31, 64,34, 66,31, 68,35, 70,32, 35,28,
  37,26, 39,29, 41,26, 43,29, 45,25, 47,29, 49,26, 51,29, 53,26, 55,28, 57,25, 59,28, 61,25, 63,27, 65,24, 67,28, 69,26, 71,28, 37,22, 41,21,
  45,20, 49,22, 53,19, 57,20, 61,21, 65,19, 69,20,
  33.5,30.5, 35.5,34.5, 37.5,30, 39.5,31, 41.5,34.5, 43.5,31.5, 45.5,34, 47.5,31, 49.5,35, 51.5,31.5, 53.5,35.5, 55.5,33, 57.5,30, 59.5,34.5,
  61.5,32.5, 63.5,29.5, 65.5,35, 67.5,30.5, 69.5,33.5, 36.5,26, 38.5,23.5, 40.5,28, 42.5,25, 44.5,28.5, 46.5,25.5, 48.5,23, 50.5,27, 52.5,24,
  54.5,27.5, 56.5,24, 58.5,22.5, 60.5,26.5, 62.5,23.5, 64.5,27, 66.5,23, 68.5,28,
];

// ---- smoothed fits: [x, fit, lower, upper] ----
const healthScoreFit = [[4.7,67,54.3,80.8],[12.7,66,57.3,75.9],[21.4,64,59.2,71],[30.2,62,59.8,64.5],[39,60.8,58.6,63],[47.8,60.2,58.2,61.8],[56.6,59.8,57.8,61.4],[65.4,59.2,57,61],[70.7,58.8,56.7,61],[75.9,60.2,57,63],[83,64,59.2,69],[88.2,70,62,77],[94.7,80.8,69,92.5]];
const medianIncomeFit = [[5,19,6.3,32.7],[14.4,32.7,26.9,39.6],[23.3,40.6,36.7,43.5],[32.3,44.5,42.2,46.5],[41.3,46.9,44.5,48.8],[47,47.3,45.2,49.4],[53.9,45.9,43.9,47.8],[62.8,43.5,41.6,45.5],[68.2,42,40,44.2],[73.6,42,39.6,44.5],[80.8,45.5,42.2,48.4],[88,50.4,44.5,56.3],[97,58.2,46.5,71]];
const carriersFit = [[4.5,34.7,21,51],[18.2,33.1,26.9,39.6],[32.6,31.8,28.8,34.7],[45.1,29.8,26.9,32.7],[52.2,26.9,23.9,29.8],[59.4,22,18.6,25.3],[66.5,17.5,14.1,21],[73.7,15.1,11.2,19],[80.9,16.1,11.2,21],[88,22,13.1,30.8],[97,35.7,21,50.4]];
const uninsuredFit = [[4.7,67.6,54.3,80.8],[11.8,58.2,48.4,68],[18.8,49.4,42.5,56.3],[27.5,39.6,35.7,43.5],[36.3,35.7,32.7,38.6],[43.3,35.7,32.7,38.2],[52.1,38.6,36.3,41],[62.6,42.5,40.2,44.9],[71.4,45.5,42.5,48.4],[80.2,46.9,41.6,52.4],[88.9,46.1,36.7,56.3],[95.6,44.5,29.8,58.2]];
const whiteFit = [[4.7,18.5,5.8,37],[9.1,27.3,16.6,40.9],[14.4,36.1,29.2,43.9],[21.4,47.8,42.9,51.7],[30.2,59.8,57.1,62.4],[39,68.2,66.1,70.4],[47.8,73.5,71.5,75.4],[56.6,76.4,74.1,78.4],[65.4,77.8,75,79.9],[74.2,78,74.1,81.9],[83,78.2,71.2,85.8],[94.7,78,64.3,92.6]];
const opioidsFit = [[4.6,29.5,18.7,41.3],[12.9,34.4,29.5,41.3],[21.7,38.4,35.4,41.3],[30.5,42.3,40,44.7],[39.3,46.3,43.9,48.2],[48.1,49.2,46.9,51.2],[56.9,52.2,49.8,54.1],[63.9,55.7,53.1,58.1],[71,57.7,54.5,61],[76.2,56.5,52.2,60.4],[81.5,52.2,47.2,57.1],[86.8,44.3,36.4,52.2],[95.2,32.5,21.7,50.2]];
const hsGradFit = [[4.5,56.1,45.3,69.9],[11.1,61,53.1,68.9],[18.2,65,61,68.9],[27.2,68.3,65.9,70.9],[36.1,70.3,68.3,72.2],[45.1,70.9,68.9,72.8],[54,70.9,68.9,72.8],[63,69.9,67.9,71.9],[71.9,68.9,66.3,71.5],[80.9,68.3,64,72.2],[89.8,67.5,59,76.8],[96.6,66.9,53.1,80.7]];
const obesityFit = [[4.4,59.1,46.3,71.9],[11.8,55.1,48.2,62],[20.5,51.2,47.2,55.1],[29.3,48.6,45.9,51.2],[38.1,47.8,45.3,50.2],[46.8,47.8,45.5,50.2],[55.6,48.2,45.9,50.6],[64.4,49.2,46.7,51.6],[71.4,49.8,46.7,52.6],[76.7,47.2,43.3,51.2],[81.9,41.3,35.4,47.2],[87.2,34.4,24.6,44.3],[94.6,24.6,8.9,42.3]];
const unemploymentFit = [[4.7,43.5,35.7,51.4],[12.7,38.6,33.1,44.5],[21.4,34.3,31.2,37.3],[30.2,31.8,29.4,33.7],[39,29.8,27.8,31.8],[47.8,28.8,26.9,30.8],[56.6,28.4,26.5,30.4],[65.4,27.5,25.3,29.6],[74.2,25.9,23.3,28.4],[83,22.9,18.6,27.3],[94.7,15.1,7.3,23.3]];
const medicareFit = [[4.9,45.7,32.4,57.8],[12.9,42.5,36.3,49],[21.7,38.6,34.7,42.2],[30.5,35.9,33.1,38.2],[39.3,33.9,31.6,36.3],[48.1,33.3,31,35.5],[56.9,33.9,31.6,36.1],[65.7,35.3,32.7,37.6],[74.5,37.3,34.3,40.2],[83.3,38.2,33.3,43.1],[95.2,36.3,28.4,50]];
const ruralUrbanFit = [[4.5,29.4,14.7,46.1],[12.9,27.5,18.6,38.2],[21.8,26.5,20.6,33.3],[30.8,26.1,22.5,30.4],[39.7,27.5,24.5,30.4],[48.7,30.4,28,32.7],[57.6,34.3,31.4,37.3],[66.5,37.8,33.3,42.2],[71.9,38.6,32.4,44.1],[79.1,37.8,29.4,46.1],[86.2,34.3,22.5,49],[96.6,30.4,6.9,53.9]];
const over65Fit = [[4.7,21.6,13.1,28.8],[13.5,22.9,18,27.8],[22.3,24.9,21.4,28.8],[31.1,27.3,24.5,30.2],[39.8,28.8,26.5,31.2],[48.6,29.8,27.6,31.8],[57.4,30.4,28.4,32.4],[66.1,30.2,27.8,32.4],[74.9,29.4,26.9,32],[81.9,26.9,22.9,30.8],[88.9,21.6,15.1,28.8],[95.6,16.1,5.3,27.8]];

// ---- layout ----
const COL_LEFT = [9, 217.3, 425.6, 633.9];
const ROW_TOP = [32, 241, 450];
const PANEL_W = 189;
const PANEL_H = 170;

const PANELS = [
  { pts: healthScorePts, fit: healthScoreFit, gx: col1GridX, gy: healthScoreGridY },
  { pts: medianIncomePts, fit: medianIncomeFit, gx: col2GridX, gy: medianIncomeGridY },
  { pts: carriersPts, fit: carriersFit, gx: col3GridX, gy: carriersGridY },
  { pts: uninsuredPts, fit: uninsuredFit, gx: col4GridX, gy: uninsuredGridY },
  { pts: whitePts, fit: whiteFit, gx: col1GridX, gy: whiteGridY },
  { pts: opioidsPts, fit: opioidsFit, gx: col2GridX, gy: opioidsGridY },
  { pts: hsGradPts, fit: hsGradFit, gx: col3GridX, gy: hsGradGridY },
  { pts: obesityPts, fit: obesityFit, gx: col4GridX, gy: obesityGridY },
  { pts: unemploymentPts, fit: unemploymentFit, gx: col1GridX, gy: unemploymentGridY },
  { pts: medicarePts, fit: medicareFit, gx: col2GridX, gy: medicareGridY },
  { pts: ruralUrbanPts, fit: ruralUrbanFit, gx: col3GridX, gy: ruralGridY },
  { pts: over65Pts, fit: over65Fit, gx: col4GridX, gy: over65GridY },
];

function pairs(flat: number[]): number[][] {
  const out: number[][] = [];
  for (let i = 0; i + 1 < flat.length; i += 2) out.push([flat[i], flat[i + 1]]);
  return out;
}

function buildOption() {
  const grid: any[] = [];
  const xAxis: any[] = [];
  const yAxis: any[] = [];
  const title: any[] = [];
  const series: any[] = [];

  PANELS.forEach((p, i) => {
    const col = i % 4;
    const row = Math.floor(i / 4);
    grid.push({
      left: COL_LEFT[col], top: ROW_TOP[row], width: PANEL_W, height: PANEL_H,
      show: true, borderColor: '#3a3a3a', borderWidth: 1, backgroundColor: '#ffffff',
      containLabel: false, outerBoundsMode: 'none',
    });
    xAxis.push({ type: 'value', gridIndex: i, min: 0, max: 100, show: false });
    yAxis.push({ type: 'value', gridIndex: i, min: 0, max: 100, show: false });
    title.push({
      text: TITLES[i], left: COL_LEFT[col], top: ROW_TOP[row] - 21, padding: 0,
      textStyle: { fontSize: 15, lineHeight: 15, fontWeight: 'normal', color: '#141414', fontFamily: "'Liberation Sans', Arial, sans-serif" },
    });

    const gridData: number[][] = [];
    p.gx.forEach((v, k) => gridData.push([v, 0, 0, k % 2]));
    p.gy.forEach((v, k) => gridData.push([0, v, 1, k % 2]));
    series.push({
      type: 'custom', xAxisIndex: i, yAxisIndex: i, silent: true, z: 1,
      data: gridData, encode: { x: 0, y: 1 },
      renderItem: (params: any, api: any) => {
        const cs = params.coordSys;
        const c = api.coord([api.value(0), api.value(1)]);
        const vertical = api.value(2) === 0;
        const major = api.value(3) === 1;
        const shape = vertical
          ? { x1: c[0], y1: cs.y, x2: c[0], y2: cs.y + cs.height }
          : { x1: cs.x, y1: c[1], x2: cs.x + cs.width, y2: c[1] };
        return { type: 'line', shape, style: { stroke: major ? '#e2e2e2' : '#ececec', lineWidth: major ? 1.2 : 0.7 }, silent: true };
      },
    });

    series.push({
      type: 'scatter', xAxisIndex: i, yAxisIndex: i, silent: true, z: 2,
      data: pairs(p.pts), symbol: 'circle', symbolSize: 6.6,
      itemStyle: { color: 'rgba(0,0,0,0)', borderColor: '#000000', borderWidth: 1.05 },
    });

    const fit = p.fit;
    series.push({
      type: 'custom', xAxisIndex: i, yAxisIndex: i, silent: true, z: 3,
      data: fit.map((r) => [r[0], r[2], r[3]]), encode: { x: 0, y: [1, 2] },
      renderItem: (params: any, api: any) => {
        if (params.dataIndex !== 0) return null;
        const pts: number[][] = [];
        for (let k = 0; k < fit.length; k++) pts.push(api.coord([fit[k][0], fit[k][3]]));
        for (let k = fit.length - 1; k >= 0; k--) pts.push(api.coord([fit[k][0], fit[k][2]]));
        return { type: 'polygon', shape: { points: pts, smooth: 0.2 }, style: { fill: '#999999', opacity: 0.4 }, silent: true };
      },
    });

    series.push({
      type: 'line', xAxisIndex: i, yAxisIndex: i, silent: true, z: 4,
      data: fit.map((r) => [r[0], r[1]]), smooth: 0.4, showSymbol: false, symbol: 'none',
      lineStyle: { color: '#6e6e6e', width: 2.6 },
    });
  });

  return { animation: false, backgroundColor: '#ffffff', grid, xAxis, yAxis, title, series };
}

export default function App() {
  const ref = useRef<HTMLDivElement>(null);
  useEffect(() => {
    if (!ref.current) return;
    const chart = echarts.init(ref.current, null, { renderer: 'svg' });
    chart.setOption(buildOption() as any);
    return () => chart.dispose();
  }, []);
  return (
    <div
      ref={ref}
      style={{ position: 'absolute', left: 0, top: 0, width: 816, height: 617, background: '#ffffff' }}
    />
  );
}
